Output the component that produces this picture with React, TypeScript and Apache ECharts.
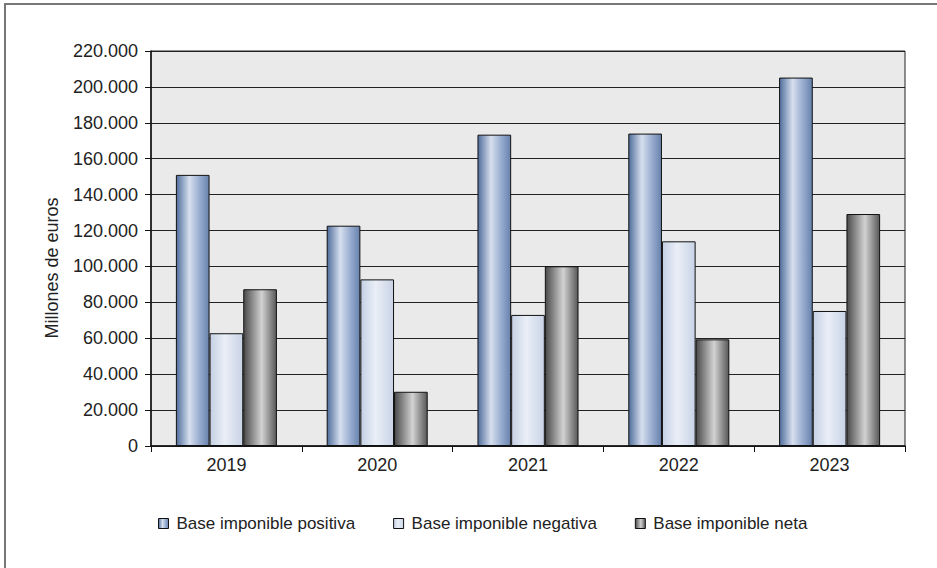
import React, { useEffect, useRef } from "react";
import * as echarts from "echarts";

const categories = ["2019", "2020", "2021", "2022", "2023"];
const positiva = [151000, 122700, 173400, 174000, 205200];
const negativa = [62800, 92800, 73000, 114000, 75200];
const neta = [87300, 30200, 100100, 59400, 129200];
const seriesNames = ["Base imponible positiva", "Base imponible negativa", "Base imponible neta"];
const yTicks = { min: 0, max: 220000, interval: 20000 };
const yName = "Millones de euros";

const FONT = "'Liberation Sans', Arial, sans-serif";

function grad(stops: [number, string][]) {
  return new echarts.graphic.LinearGradient(
    0, 0, 1, 0,
    stops.map(([offset, color]) => ({ offset, color }))
  );
}

const fmt = (v: number) => String(v).replace(/\B(?=(\d{3})+(?!\d))/g, ".");

export default function App() {
  const ref = useRef<HTMLDivElement>(null);
  useEffect(() => {
    if (!ref.current) return;
    const chart = echarts.init(ref.current, null, { renderer: "svg" });
    const gPos = grad([[0, "#4f6d9c"], [0.4, "#d6dfee"], [0.7, "#9aaed0"], [1, "#6882ad"]]);
    const gNeg = grad([[0, "#c4d0e4"], [0.45, "#eaeff7"], [1, "#c8d3e6"]]);
    const gNet = grad([[0, "#4a4a4a"], [0.55, "#d2d2d2"], [1, "#585858"]]);
    const mk = (name: string, data: number[], color: any) => ({
      name,
      type: "bar",
      data,
      barGap: "0%",
      barCategoryGap: "33%",
      itemStyle: { color, borderColor: "#111", borderWidth: 1 },
    });
    chart.setOption({
      animation: false,
      textStyle: { fontFamily: FONT },
      grid: {
        left: 151, top: 51, width: 754, height: 395,
        show: true, backgroundColor: "#eaeaea", borderColor: "#222", borderWidth: 1,
      },
      graphic: [
        {
          type: "rect",
          shape: { x: 5, y: 4, width: 940, height: 570 },
          style: { fill: "none", stroke: "#777", lineWidth: 2 },
          silent: true,
        },
        {
          type: "text",
          x: 52,
          y: 268,
          rotation: Math.PI / 2,
          style: {
            text: yName,
            fontSize: 18,
            fontFamily: FONT,
            fill: "#222",
            align: "center",
            verticalAlign: "middle",
          },
          silent: true,
        },
      ],
      legend: {
        left: 153,
        top: 510,
        itemWidth: 10,
        itemHeight: 10,
        itemGap: 38,
        icon: "rect",
        textStyle: { fontSize: 17, color: "#222", fontFamily: FONT, padding: [0, 0, 0, 3] },
        itemStyle: { borderColor: "#111", borderWidth: 1 },
        data: seriesNames,
      },
      xAxis: {
        type: "category",
        data: categories,
        axisLine: { lineStyle: { color: "#111", width: 1.5 } },
        axisTick: { show: true, length: 6, lineStyle: { color: "#111" } },
        axisLabel: { fontSize: 18, color: "#222", margin: 10, fontFamily: FONT },
      },
      yAxis: {
        type: "value",
        min: yTicks.min,
        max: yTicks.max,
        interval: yTicks.interval,
        axisLine: { show: true, lineStyle: { color: "#111", width: 1.5 } },
        axisTick: { show: true, length: 6, lineStyle: { color: "#111" } },
        axisLabel: { fontSize: 18, color: "#222", margin: 13, formatter: (v: number) => fmt(v), fontFamily: FONT },
        splitLine: { show: true, lineStyle: { color: "#222", width: 1 } },
      },
      series: [mk(seriesNames[0], positiva, gPos), mk(seriesNames[1], negativa, gNeg), mk(seriesNames[2], neta, gNet)],
    });
    return () => chart.dispose();
  }, []);
  return <div ref={ref} style={{ position: "fixed", left: 0, top: 0, width: 937, height: 568, background: "#fff" }} />;
}
